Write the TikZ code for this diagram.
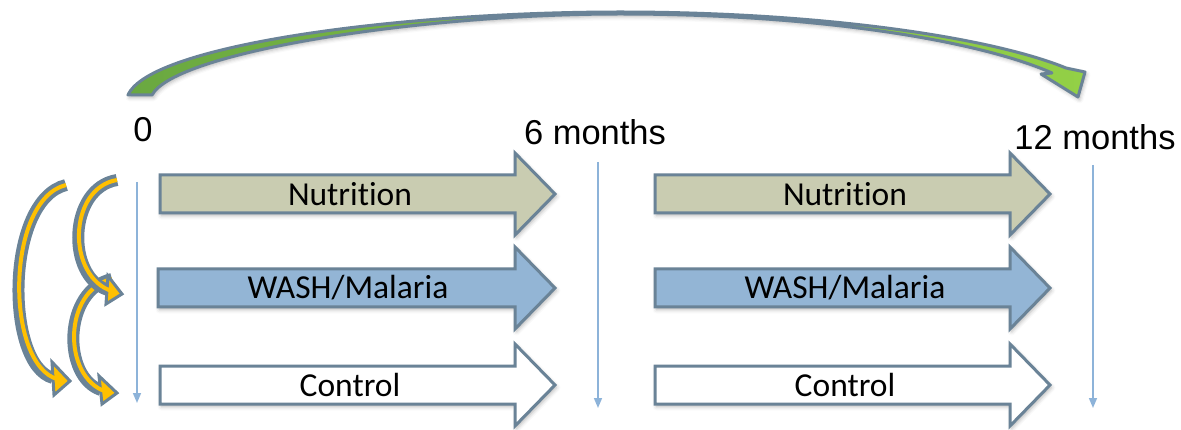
\documentclass[tikz,border=0pt]{standalone}
\usepackage{fontspec}
\setmainfont{Liberation Sans}
\newfontfamily\armfont[Ligatures=NoCommon]{Carlito}
\usetikzlibrary{arrows.meta,shadows.blur}

\definecolor{slate}{HTML}{6A8397}
\definecolor{khaki}{HTML}{C9CCB1}
\definecolor{washblue}{HTML}{93B5D5}
\definecolor{tickblue}{HTML}{8DB3D9}
\definecolor{amber}{HTML}{FFC000}
\definecolor{leaf}{HTML}{6AA841}
\definecolor{leaflight}{HTML}{93D046}

\tikzset{
  softshadow/.style={blur shadow={shadow xshift=1.5pt, shadow yshift=-2.5pt,
                 shadow blur radius=4pt, shadow opacity=30}},
  blockarrow/.style={draw=slate, line width=3pt, line join=miter, softshadow},
  armlabel/.style={font=\armfont\fontsize{33.5}{40}\selectfont, inner sep=0pt},
  timelabel/.style={font=\fontsize{34.5}{40}\selectfont, inner sep=0pt},
  tickline/.style={draw=tickblue, line width=1.6pt,
    -{Triangle[length=10pt,width=8pt]}},
  swapedge/.style={draw=slate, line width=12pt},
  swapcore/.style={draw=amber, line width=4pt, shorten >=-5pt},
  swaphead/.style={fill=amber, draw=slate, line width=3pt, line join=miter},
}

% block arrow: name, left x, tip x, centre y, fill, label
\newcommand\armarrow[6]{%
  \path[blockarrow, fill=#5]
    (#2,#4-19) -- ({#3-40},#4-19) -- ({#3-40},#4-41) -- (#3,#4)
    -- ({#3-40},#4+41) -- ({#3-40},#4+19) -- (#2,#4+19) -- cycle;
  \node[armlabel] (#1) at ({#2+190},#4) {#6};
}

% curved crossover arrow: start, control 1, control 2, end, wing, tip, wing
\newcommand\swaparrow[7]{%
  \draw[swapedge] (#1) .. controls #2 and #3 .. (#4);
  \draw[swaphead] #5 -- #6 -- #7 -- cycle;
  \draw[swapcore] (#1) .. controls #2 and #3 .. (#4);
}

\begin{document}
\begin{tikzpicture}[x=1pt,y=-1pt]
\useasboundingbox (0,0) rectangle (1181,430);

% curved arrow spanning the whole year
\shadedraw[left color=leaf, right color=leaflight, draw=slate, line width=3pt,
  line join=round, softshadow]
  (128,95) .. controls (150,45) and (400,12) .. (620,12)
  .. controls (820,12) and (990,37) .. (1066,68)
  -- (1085,72) -- (1078,97) -- (1041,74) -- (1052,73)
  .. controls (980,41) and (820,14) .. (620,14)
  .. controls (420,14) and (175,52) .. (152,95) -- cycle;

% time points
\node[timelabel] (m0)  at (143,130) {0};
\node[timelabel] (m6)  at (595,132) {6 months};
\node[timelabel] (m12) at (1095,137) {12 months};

\coordinate (t0a)  at (137,182);  \coordinate (t0b)  at (137,403);
\coordinate (t6a)  at (598,162);  \coordinate (t6b)  at (598,408);
\coordinate (t12a) at (1093,165); \coordinate (t12b) at (1093,408);
\draw[tickline] (t0a) -- (t0b);
\draw[tickline] (t6a) -- (t6b);
\draw[tickline] (t12a) -- (t12b);

% study arms, first and second half year
\armarrow{nut1}{160}{555}{194}{khaki}{Nutrition}
\armarrow{wash1}{158}{555}{288}{washblue}{WASH/Malaria}
\armarrow{ctl1}{160}{555}{385}{white}{Control}
\armarrow{nut2}{655}{1050}{194}{khaki}{Nutrition}
\armarrow{wash2}{655}{1050}{288}{washblue}{WASH/Malaria}
\armarrow{ctl2}{655}{1050}{385}{white}{Control}

% crossover arrows between arms
\coordinate (aS) at (66,185);  \coordinate (aE) at (53,378);
\coordinate (cS) at (112,279); \coordinate (cE) at (101,390);
\coordinate (bS) at (117,180); \coordinate (bE) at (108,290);
\swaparrow{aS}{(5,200)}{(5,365)}{aE}{(52,362)}{(70,381)}{(54,395)}
\swaparrow{cS}{(63,290)}{(62,377)}{cE}{(99,376)}{(117,393)}{(102,404)}
\swaparrow{bS}{(68,188)}{(66,277)}{bE}{(108,276)}{(122,294)}{(106,304)}
\end{tikzpicture}
\end{document}
